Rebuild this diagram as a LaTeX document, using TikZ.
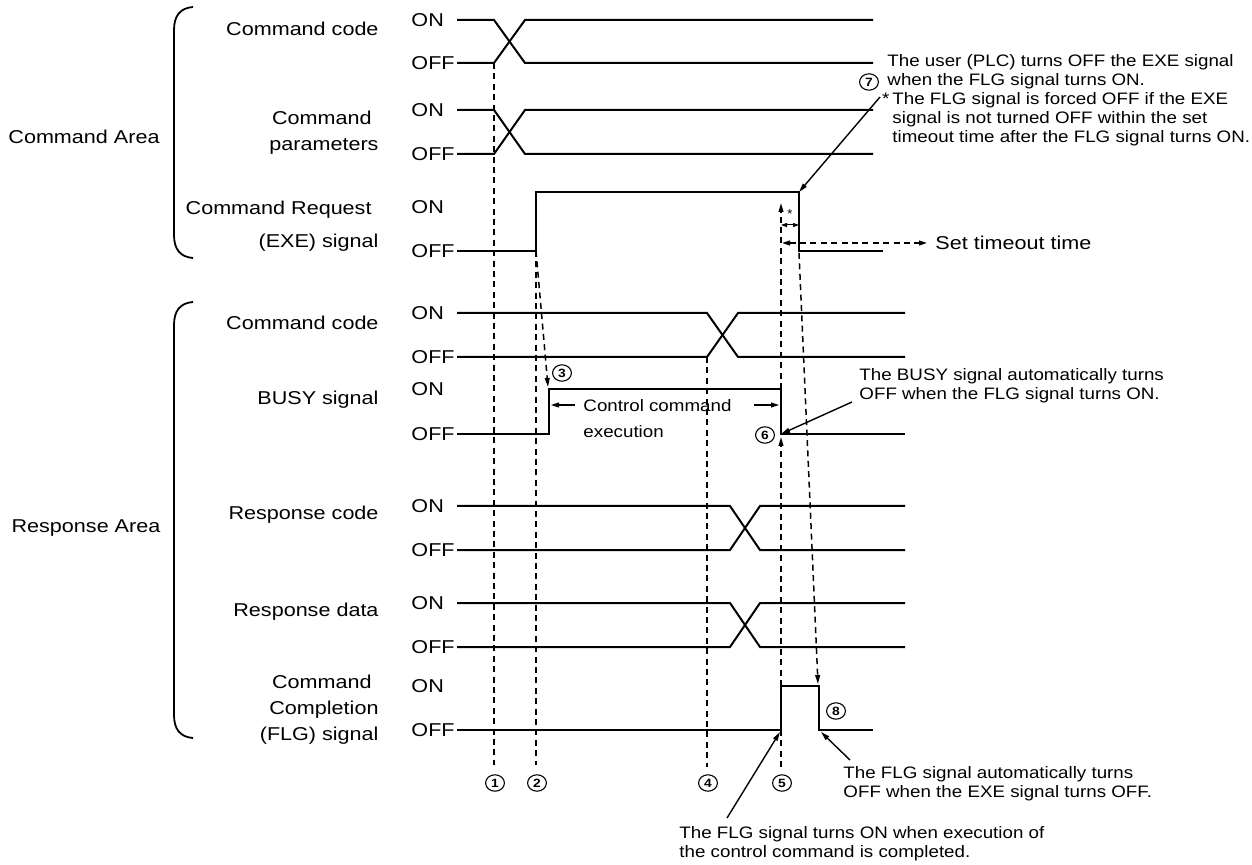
\documentclass[tikz,border=0pt]{standalone}
\usepackage{fontspec}
\setmainfont{Liberation Sans}
\usetikzlibrary{arrows.meta}

\tikzset{
  sig/.style={line width=1pt},
  guide/.style={line width=0.75pt, dash pattern=on 3pt off 2.2pt},
  tip/.style={-{Triangle[length=4.5pt,width=2.4pt]}},
  lbl/.style={font=\fontsize{9.3}{13}\selectfont, xscale=1.16, inner sep=0pt},
  note/.style={font=\fontsize{8.3}{9.6}\selectfont, xscale=1.13, inner sep=0pt, align=left},
  num/.style={circle, draw, line width=0.55pt, inner sep=0pt, minimum size=8.2pt,
    xscale=1.15, font=\fontsize{6}{6}\selectfont\bfseries},
}

\begin{document}
\begin{tikzpicture}[x=0.5pt,y=-0.5pt]
\useasboundingbox (0,0) rectangle (1252,865);

% area braces
\draw[line width=0.9pt] (193,7) .. controls (180,8) and (174,16) .. (174,30) -- (174,235) .. controls (174,249) and (180,257) .. (193,258);
\draw[line width=0.9pt] (193,302) .. controls (180,303) and (174,311) .. (174,325) -- (174,715) .. controls (174,729) and (180,737) .. (193,738);
\node[lbl] (cmdarea) at (84,137) {Command Area};
\node[lbl] (resarea) at (86,528) {Response Area};

% signal names
\node[lbl, anchor=east] (ccode) at (379,29) {Command code};
\node[lbl, anchor=east, align=right] (cpar) at (379,133) {Command\hspace*{3pt}\\parameters};
\node[lbl, anchor=east, align=right] (cexe) at (379,226) {Command Request\hspace*{3pt}\\[3.5pt](EXE) signal};
\node[lbl, anchor=east] (rcode) at (379,323) {Command code};
\node[lbl, anchor=east] (rbusy) at (379,400) {BUSY signal};
\node[lbl, anchor=east] (rrsc) at (379,515) {Response code};
\node[lbl, anchor=east] (rrsd) at (379,612) {Response data};
\node[lbl, anchor=east, align=right] (rflg) at (379,710) {Command\hspace*{3pt}\\Completion\hspace*{3pt}\\(FLG) signal};

% ON / OFF levels
\foreach \y/\t in {20/ON,63/OFF,110/ON,154/OFF,207/ON,251/OFF,313/ON,357/OFF,389/ON,434/OFF,506/ON,550/OFF,603/ON,647/OFF,686/ON,730/OFF}
  \node[lbl, anchor=west] at (411,\y) {\t};

% command area waveforms
\draw[sig] (457,20) -- (494,20) -- (525,63) -- (873,63);
\draw[sig] (457,63) -- (494,63) -- (525,20) -- (873,20);
\draw[sig] (457,110) -- (494,110) -- (525,154) -- (873,154);
\draw[sig] (457,154) -- (494,154) -- (525,110) -- (873,110);
\draw[sig] (457,251) -- (536,251) -- (536,192) -- (799,192) -- (799,251) -- (883,251);

% response area waveforms
\draw[sig] (457,313) -- (707,313) -- (738,357) -- (905,357);
\draw[sig] (457,357) -- (707,357) -- (738,313) -- (905,313);
\draw[sig] (457,434) -- (549,434) -- (549,389) -- (781,389) -- (781,434) -- (905,434);
\draw[sig] (457,506) -- (730,506) -- (760,550) -- (905,550);
\draw[sig] (457,550) -- (730,550) -- (760,506) -- (905,506);
\draw[sig] (457,603) -- (730,603) -- (760,647) -- (905,647);
\draw[sig] (457,647) -- (730,647) -- (760,603) -- (905,603);
\draw[sig] (457,730) -- (781,730) -- (781,686) -- (819,686) -- (819,730) -- (873,730);

% event points
\coordinate (exerise) at (536,251);
\coordinate (exefall) at (799,192);
\coordinate (busyrise) at (549,389);
\coordinate (busyfall) at (781,434);
\coordinate (flgrise) at (781,730);
\coordinate (flgfall) at (819,730);

% timing guides
\draw[guide] (494,63) -- (494,765);
\draw[guide] (exerise) -- (536,765);
\draw[guide] (707,357) -- (707,767);
\draw[guide] (781,730) -- (781,768);
\draw[guide,tip] (exerise) -- (548,387);
\draw[guide,tip] (781,686) -- (781,437);
\draw[guide,tip] (781,389) -- (781,203);
\draw[guide,tip] (799,253) -- (818,684);

% timeout
\draw[line width=0.5pt, {Triangle[length=3pt,width=2pt]}-{Triangle[length=3pt,width=2pt]}] (781,225) -- (799,225);
\node[font=\fontsize{6.5}{6}\selectfont, inner sep=0pt] (star) at (790,214) {*};
\draw[guide, {Triangle[length=4pt,width=2.4pt]}-{Triangle[length=4pt,width=2.4pt]}] (782,243) -- (927,243);
\node[lbl, anchor=west] (tout) at (935,243) {Set timeout time};

% execution span
\node[note, font=\fontsize{8.3}{13}\selectfont, anchor=north west] (exec) at (583,399) {Control command\\execution};
\draw[line width=0.6pt, -{Triangle[length=4pt,width=2.4pt]}] (575,405) -- (551,405);
\draw[line width=0.6pt, -{Triangle[length=4pt,width=2.4pt]}] (754,405) -- (779,405);

% step numbers
\node[num] (s1) at (495,783) {1};
\node[num] (s2) at (537,783) {2};
\node[num] (s3) at (562,373) {3};
\node[num] (s4) at (708,783) {4};
\node[num] (s5) at (782,783) {5};
\node[num] (s6) at (765,435) {6};
\node[num] (s7) at (869,82) {7};
\node[num] (s8) at (836,711) {8};

% notes
\node[note, anchor=west] (user) at (887,72) {The user (PLC) turns OFF the EXE signal\\when the FLG signal turns ON.};
\node[note, anchor=north west] (force) at (892,92) {\llap{*\,}The FLG signal is forced OFF if the EXE\\signal is not turned OFF within the set\\timeout time after the FLG signal turns ON.};
\coordinate (c7) at (880,97);
\draw[line width=0.7pt, tip] (c7) -- (exefall);

\node[note, anchor=west] (busyoff) at (859,386) {The BUSY signal automatically turns\\OFF when the FLG signal turns ON.};
\coordinate (c6) at (852,402);
\draw[line width=0.7pt, tip] (c6) -- (busyfall);

\node[note, anchor=west] (flgoff) at (843,784) {The FLG signal automatically turns\\OFF when the EXE signal turns OFF.};
\coordinate (c8) at (850,760);
\draw[line width=0.7pt, tip] (c8) -- ([xshift=1pt,yshift=-1pt]flgfall);

\node[note, anchor=west] (flgon) at (679,844) {The FLG signal turns ON when execution of\\the control command is completed.};
\coordinate (c5) at (727,818);
\draw[line width=0.7pt, tip] (c5) -- ([xshift=-0.5pt,yshift=-1pt]flgrise);
\end{tikzpicture}
\end{document}
